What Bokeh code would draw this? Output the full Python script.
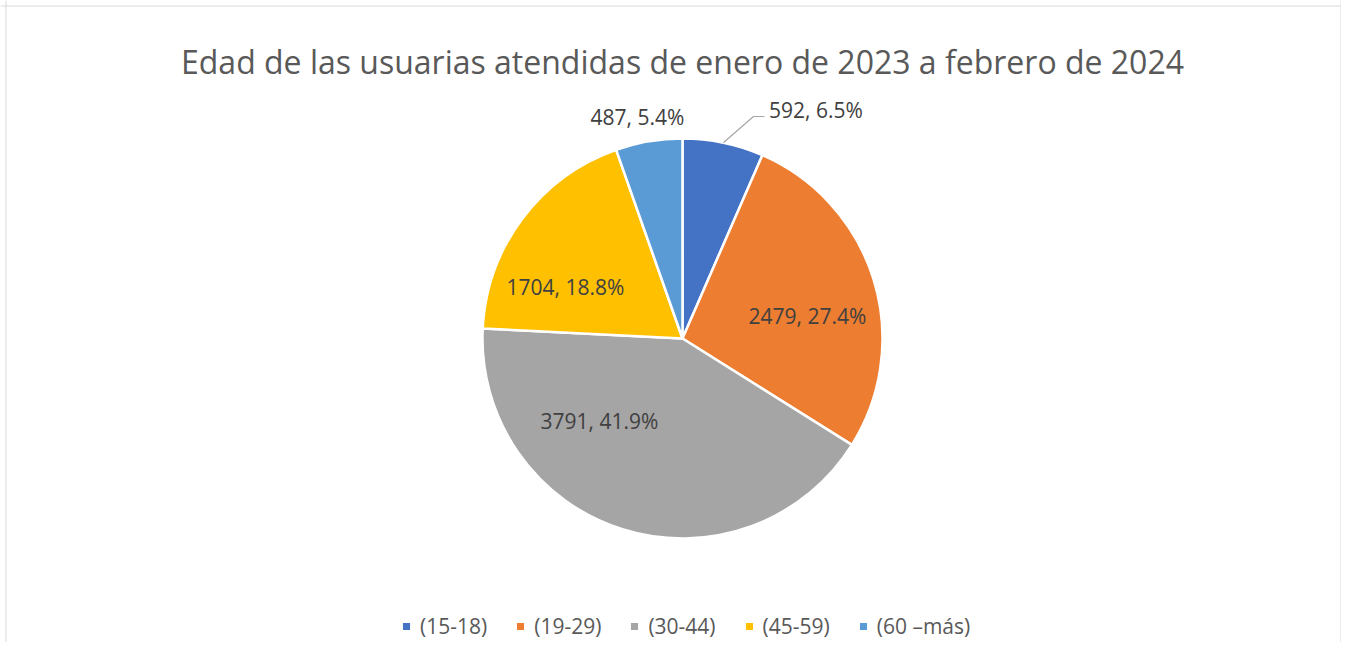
import math
from bokeh.plotting import figure
from bokeh.models import Range1d, Legend, LegendItem, Span, ColumnDataSource, Label
from bokeh.core.properties import value
from bokeh.embed import file_html
from bokeh.resources import INLINE

# ---------------- data ----------------
title_text = "Edad de las usuarias atendidas de enero de 2023 a febrero de 2024"
categories = ["(15-18)", "(19-29)", "(30-44)", "(45-59)", "(60 \u2013más)"]
counts = [592, 2479, 3791, 1704, 487]
colors = ["#4472C4", "#ED7D31", "#A5A5A5", "#FFC000", "#5B9BD5"]

# ---------------- layout ----------------
W, H = 1341, 642
CX, CY, R = 682, H - 338, 200
# label anchor positions in pie-radius units (dx, dy) from the pie centre
label_layout = [(0.6675, 1.1425), (0.625, 0.115), (-0.415, -0.4125),
                (-0.585, 0.2575), (-0.225, 1.11)]
leader_elbow = [(0.355, 1.11), (0.41, 1.11)]   # leader line for first label
FONT = "Open Sans"

total = sum(counts)
fracs = [c / total for c in counts]
starts, ends, cum = [], [], 0.0
for f in fracs:
    starts.append(math.pi / 2 - 2 * math.pi * cum)
    cum += f
    ends.append(math.pi / 2 - 2 * math.pi * cum)
labels = [f"{c}, {f * 100:.1f}%" for c, f in zip(counts, fracs)]

p = figure(width=W, height=H, output_backend="svg", toolbar_location=None,
           x_range=Range1d(0, W), y_range=Range1d(0, H),
           x_axis_type=None, y_axis_type=None, min_border=0,
           background_fill_color="white", border_fill_color="white")
p.grid.visible = False
p.outline_line_color = None

# chart border (left, top, right)
p.add_layout(Span(location=5.5, dimension="height", line_color="#D9D9D9", line_width=1))
p.add_layout(Span(location=W - 0.5, dimension="height", line_color="#D9D9D9", line_width=1))
p.add_layout(Span(location=H - 5.5, dimension="width", line_color="#D9D9D9", line_width=1))

src = ColumnDataSource(dict(cat=categories, count=counts, start=starts, end=ends,
                            color=colors, label=labels))
wedges = p.wedge(x=CX, y=CY, radius=R, start_angle="start", end_angle="end",
                 direction="clock", fill_color="color", line_color="white",
                 line_width=2.5, source=src)

# data labels
lx = [CX + R * dx for dx, dy in label_layout]
ly = [CY + R * dy for dx, dy in label_layout]
lsrc = ColumnDataSource(dict(x=lx, y=ly, text=labels))
p.text(x="x", y="y", text="text", source=lsrc, text_font=value(FONT),
       text_font_size="21px", text_color="#404040", text_align="center",
       text_baseline="middle")

# leader line for the small first slice
mid0 = (starts[0] + ends[0]) / 2
px0 = CX + R * math.cos(mid0)
py0 = CY + R * math.sin(mid0)
p.line(x=[px0] + [CX + R * e[0] for e in leader_elbow],
       y=[py0] + [CY + R * e[1] for e in leader_elbow],
       line_color="#A6A6A6", line_width=1.2)

# title
p.add_layout(Label(x=682, y=H - 61, text=title_text, text_font=FONT,
                   text_font_size="32px", text_color="#595959",
                   text_align="center", text_baseline="alphabetic"))

# legend
items = [LegendItem(label=c, renderers=[wedges], index=i) for i, c in enumerate(categories)]
legend = Legend(items=items, orientation="horizontal", location=(400, 2),
                glyph_width=12, glyph_height=12, label_standoff=8, spacing=27,
                padding=0, margin=0, border_line_color=None,
                background_fill_alpha=0, label_text_font=FONT,
                label_text_font_size="21px", label_text_color="#595959",
                label_height=20)
p.add_layout(legend, "center")

open("out.html", "w").write(file_html(p, INLINE))
